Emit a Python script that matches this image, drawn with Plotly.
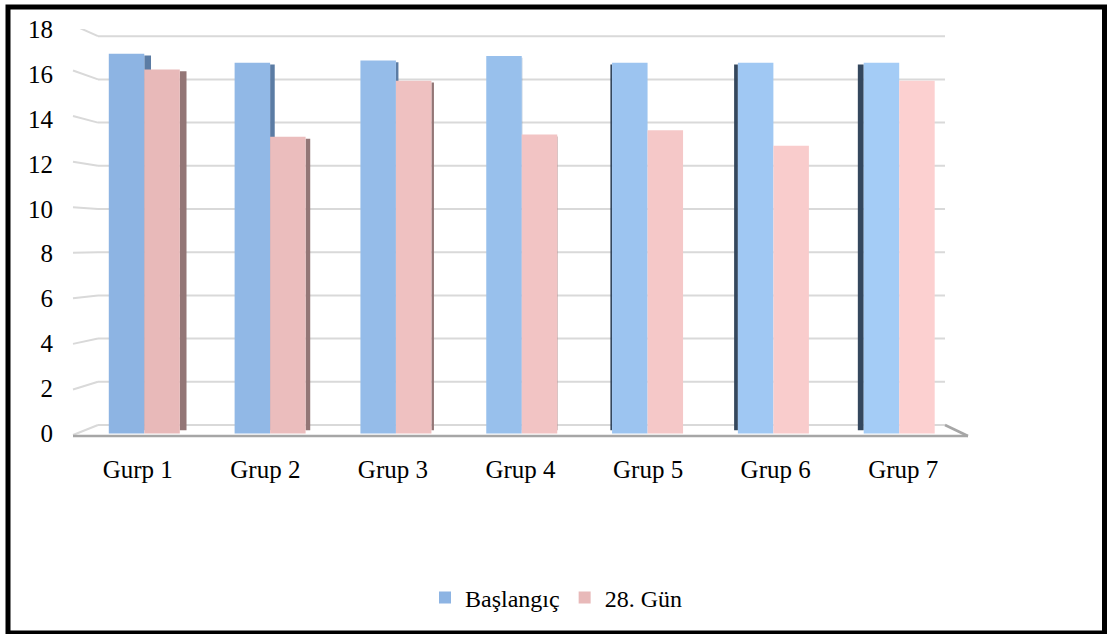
import plotly.graph_objects as go

# ---- data ----
categories = ["Gurp 1", "Grup 2", "Grup 3", "Grup 4", "Grup 5", "Grup 6", "Grup 7"]
baslangic = [16.9, 16.5, 16.6, 16.8, 16.5, 16.5, 16.5]
gun28 = [16.2, 13.2, 15.7, 13.3, 13.5, 12.8, 15.7]
y_ticks = [0, 2, 4, 6, 8, 10, 12, 14, 16, 18]
series_names = ["Başlangıç", "28. Gün"]

# ---- page geometry (pixels) ----
W, H = 1109, 634
L, R = 74, 967          # plot area left / right
T, B = 29, 438          # plot area top / bottom
Y0, Y1 = -0.2, 18.0     # value range of the bar plane
FONT = "Liberation Serif, Times New Roman, serif"

n = len(categories)
pitch = (R - L) / n


def y_of(px):
    """pixel row -> value on the y axis"""
    return Y0 + (B - px) / (B - T) * (Y1 - Y0)


def xp(px):
    """pixel column -> paper x"""
    return (px - L) / (R - L)


def yp(px):
    """pixel row -> paper y"""
    return (B - px) / (B - T)


def mix(c1, c2, t):
    a = [int(c1[i:i + 2], 16) for i in (1, 3, 5)]
    b = [int(c2[i:i + 2], 16) for i in (1, 3, 5)]
    return "#" + "".join(f"{round(x + (y - x) * t):02x}" for x, y in zip(a, b))


# bar width and a slight perspective drift of the clusters
bw = 35.5 / pitch
shift = [(6.5 - 1.75 * i) / pitch for i in range(n)]
depth = [(3.2 - i) * 2.1 / pitch for i in range(n)]   # visible side-face width

blue_cols = [mix("#8db4e3", "#a4ccf6", i / (n - 1)) for i in range(n)]
pink_cols = [mix("#e8b9b9", "#fcd0d0", i / (n - 1)) for i in range(n)]

fig = go.Figure()
fig.add_trace(go.Bar(
    x=categories, y=baslangic, name=series_names[0],
    width=[bw] * n, offset=[-bw + s for s in shift],
    marker=dict(color=blue_cols, line=dict(width=0)),
))
fig.add_trace(go.Bar(
    x=categories, y=gun28, name=series_names[1],
    width=[bw] * n, offset=shift,
    marker=dict(color=pink_cols, line=dict(width=0)),
))

shapes = []
grid = "#d9d9d9"
# back-wall gridlines with slanted left-wall stubs
for v in y_ticks:
    front = 435 - 22.78 * v
    back = 425 - 21.6 * v
    shapes.append(dict(type="line", xref="paper", yref="y", layer="below",
                       x0=xp(73), y0=y_of(front), x1=xp(98), y1=y_of(back),
                       line=dict(color=grid, width=2)))
    shapes.append(dict(type="line", xref="paper", yref="y", layer="below",
                       x0=xp(98), y0=y_of(back), x1=xp(945), y1=y_of(back),
                       line=dict(color=grid, width=2)))
# floor edges
floor = "#a6a6a6"
shapes.append(dict(type="line", xref="paper", yref="y", layer="below",
                   x0=xp(73), y0=y_of(436), x1=xp(968), y1=y_of(436),
                   line=dict(color=floor, width=2.5)))
shapes.append(dict(type="line", xref="paper", yref="y", layer="below",
                   x0=xp(968), y0=y_of(436), x1=xp(945), y1=y_of(425),
                   line=dict(color=floor, width=2.5)))

# side faces of the columns (hidden partly behind the neighbouring column)
for i in range(n):
    d = depth[i]
    b_left = i - bw + shift[i]
    b_right = i + shift[i]
    p_right = i + bw + shift[i]
    if d > 0:
        shapes.append(dict(type="rect", xref="x", yref="y", layer="below",
                           x0=b_right, x1=b_right + d, y0=0.15, y1=baslangic[i] - 0.08,
                           fillcolor="#5b7ca4", line=dict(width=0)))
        shapes.append(dict(type="rect", xref="x", yref="y", layer="below",
                           x0=p_right, x1=p_right + d, y0=0.15, y1=gun28[i] - 0.08,
                           fillcolor="#937676", line=dict(width=0)))
    elif d < 0:
        shapes.append(dict(type="rect", xref="x", yref="y", layer="below",
                           x0=b_left + d, x1=b_left, y0=0.15, y1=baslangic[i] - 0.08,
                           fillcolor="#34475d", line=dict(width=0)))

# outer frame
shapes.append(dict(type="rect", xref="paper", yref="paper", layer="above",
                   x0=xp(8), x1=xp(1104.5), y0=yp(633), y1=yp(7),
                   line=dict(color="black", width=5), fillcolor="rgba(0,0,0,0)"))

fig.update_layout(
    width=W, height=H,
    margin=dict(l=L, r=W - R, t=T, b=H - B, pad=0),
    paper_bgcolor="white", plot_bgcolor="white",
    barmode="overlay",
    font=dict(family=FONT, size=25, color="black"),
    shapes=shapes,
    showlegend=True,
    legend=dict(orientation="h", x=xp(556), xanchor="center",
                y=yp(598), yanchor="middle",
                font=dict(family=FONT, size=24, color="black"),
                itemwidth=30, tracegroupgap=0),
    xaxis=dict(showgrid=False, zeroline=False, showline=False, ticks="",
               tickfont=dict(family=FONT, size=25, color="black"),
               ticklabelstandoff=14, range=[-0.5, n - 0.5]),
    yaxis=dict(range=[Y0, Y1], tickvals=y_ticks, showgrid=False, zeroline=False,
               showline=False, ticks="",
               tickfont=dict(family=FONT, size=25, color="black"),
               ticklabelstandoff=20),
)

fig.write_html("out.html")
